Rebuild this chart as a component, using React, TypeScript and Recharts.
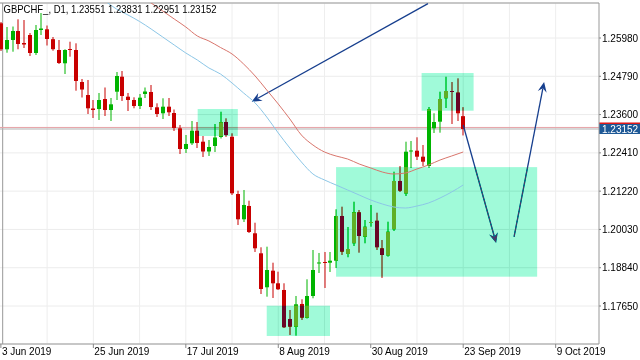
import { ComposedChart, Bar, Line, XAxis, YAxis, CartesianGrid, ReferenceLine, ReferenceArea } from 'recharts';

const symbol = 'GBPCHF_';
const period = 'D1';

// daily OHLC, 3 Jun 2019 .. 23 Sep 2019
const opens = [
  1.26437, 1.25629, 1.25918, 1.26198, 1.25825, 1.26073, 1.25514, 1.26229, 1.2625, 1.25943,
  1.25607, 1.25194, 1.25638, 1.25607, 1.24612, 1.24208, 1.23789, 1.23773, 1.24084, 1.23742,
  1.24311, 1.24777, 1.24156, 1.24053, 1.23866, 1.2424, 1.24302, 1.23826, 1.2364, 1.23845,
  1.23649, 1.23173, 1.2253, 1.22707, 1.23099, 1.22757, 1.22452, 1.22623, 1.22903, 1.23369,
  1.22912, 1.21131, 1.20345, 1.20759, 1.1991, 1.19288, 1.18232, 1.18748, 1.18356, 1.18148,
  1.17247, 1.17007, 1.17713, 1.17287, 1.17961, 1.18971, 1.19018, 1.18996, 1.19058, 1.20448,
  1.19267, 1.19599, 1.20563, 1.19804, 1.2023, 1.20302, 1.19444, 1.1922, 1.20034, 1.21536,
  1.21147, 1.22452, 1.22477, 1.22291, 1.22002, 1.23173, 1.23379, 1.24106, 1.24333, 1.24286,
  1.23551,
];
const highs = [
  1.26477, 1.26322, 1.26337, 1.26561, 1.26539, 1.26135, 1.26384, 1.26757, 1.26368, 1.26011,
  1.25918, 1.25629, 1.25865, 1.25815, 1.24706, 1.24675, 1.24053, 1.24271, 1.24442, 1.24115,
  1.24923, 1.24954, 1.24271, 1.24137, 1.2424, 1.24442, 1.24519, 1.2395, 1.24106, 1.24115,
  1.23758, 1.23276, 1.22965, 1.234, 1.23369, 1.22934, 1.2281, 1.23307, 1.23689, 1.23484,
  1.23018, 1.21234, 1.21256, 1.20923, 1.20239, 1.19475, 1.19494, 1.18996, 1.18717, 1.18356,
  1.17526, 1.17961, 1.17859, 1.1848, 1.19391, 1.19298, 1.19329, 1.19329, 1.20656, 1.20737,
  1.20106, 1.20892, 1.20634, 1.20323, 1.2079, 1.2055, 1.19702, 1.20271, 1.21825, 1.22002,
  1.22757, 1.22779, 1.22894, 1.22654, 1.23835, 1.2364, 1.24311, 1.24777, 1.24612, 1.24727,
  1.23831,
];
const lows = [
  1.25576, 1.25523, 1.25554, 1.25629, 1.25669, 1.25421, 1.25452, 1.26073, 1.25747, 1.25585,
  1.25172, 1.24861, 1.25399, 1.24342, 1.24131, 1.23618, 1.23494, 1.23431, 1.23556, 1.234,
  1.24053, 1.24022, 1.23711, 1.23795, 1.23773, 1.24115, 1.23742, 1.23525, 1.23462, 1.23556,
  1.2309, 1.22375, 1.22406, 1.22654, 1.22561, 1.22281, 1.22313, 1.22437, 1.22856, 1.22903,
  1.211, 1.20168, 1.20261, 1.19919, 1.19329, 1.18023, 1.1794, 1.17899, 1.18148, 1.16967,
  1.16749, 1.16727, 1.17216, 1.17262, 1.1789, 1.18676, 1.1821, 1.18707, 1.18832, 1.19236,
  1.19164, 1.19515, 1.19307, 1.19599, 1.20115, 1.19391, 1.18521, 1.19183, 1.19982, 1.21194,
  1.21069, 1.2194, 1.22188, 1.22002, 1.2194, 1.23027, 1.23037, 1.23804, 1.23307, 1.234,
  1.22951,
];
const closes = [
  1.25629, 1.25918, 1.26198, 1.25794, 1.25778, 1.25514, 1.26229, 1.26275, 1.25949, 1.25632,
  1.25203, 1.25607, 1.25613, 1.24644, 1.24379, 1.23795, 1.23742, 1.24053, 1.23742, 1.23919,
  1.24799, 1.24177, 1.24053, 1.23866, 1.24125, 1.24317, 1.23835, 1.23618, 1.23845, 1.23671,
  1.23183, 1.2253, 1.22686, 1.23099, 1.22717, 1.22452, 1.22592, 1.22888, 1.2336, 1.22965,
  1.21153, 1.20345, 1.2079, 1.1995, 1.19444, 1.18179, 1.18769, 1.18356, 1.1817, 1.16989,
  1.17007, 1.17703, 1.17287, 1.17961, 1.18769, 1.19003, 1.18987, 1.19058, 1.20448, 1.19338,
  1.19422, 1.20563, 1.19826, 1.20115, 1.20261, 1.19475, 1.19236, 1.1996, 1.21536, 1.21234,
  1.22446, 1.22484, 1.22291, 1.22135, 1.23764, 1.23369, 1.24084, 1.24333, 1.24302, 1.2364,
  1.23152,
];

// moving averages, read at every second bar
const maRedBars = [20, 22, 24, 26, 28, 30, 32, 34, 36, 38, 40, 42, 44, 46, 48, 50, 52, 54, 56, 58, 60, 62, 64, 66, 68, 70, 72, 74, 76, 78, 80];
const maRedVals = [
  1.27783, 1.27534, 1.27285, 1.27068, 1.26819, 1.2657, 1.26322, 1.26042, 1.25887, 1.25685,
  1.25483, 1.25172, 1.24799, 1.24364, 1.23929, 1.23463, 1.22965, 1.22654, 1.22437, 1.22312,
  1.22219, 1.22064, 1.2194, 1.21815, 1.21753, 1.21784, 1.21909, 1.22033, 1.22188, 1.22312,
  1.22437,
];
const maBlueBars = [16, 18, 20, 22, 24, 26, 28, 30, 32, 34, 36, 38, 40, 42, 44, 46, 48, 50, 52, 54, 56, 58, 60, 62, 64, 66, 68, 70, 72, 74, 76, 78, 80];
const maBlueVals = [
  1.27347, 1.2713, 1.26881, 1.26695, 1.26493, 1.2626, 1.26011, 1.25762, 1.25514, 1.25296,
  1.25048, 1.24861, 1.24581, 1.24271, 1.2396, 1.23525, 1.23027, 1.22561, 1.22126, 1.21753,
  1.21567, 1.21411, 1.21256, 1.211, 1.20945, 1.20821, 1.20727, 1.20696, 1.20758, 1.20852,
  1.21007, 1.21193, 1.21411,
];

const tickBars = [0, 16, 32, 48, 64, 80, 96];
const tickLabels = ['3 Jun 2019', '25 Jun 2019', '17 Jul 2019', '8 Aug 2019', '30 Aug 2019', '23 Sep 2019', '9 Oct 2019'];
const priceTicks = [1.1765, 1.1884, 1.2003, 1.2122, 1.2241, 1.236, 1.2479, 1.2598];
const gridBars = [8, 16, 24, 32, 40, 48, 56, 64, 72, 80, 88, 96];

const bid = 1.23152;
const ask = 1.232;
const SLOTS = 104;
const Y_MIN = 1.16469;
const Y_MAX = 1.27068;

// drawn objects (bar position, price)
const boxX1 = [34.05, 46.0, 58.0, 72.8];
const boxX2 = [41.0, 56.95, 92.8, 81.8];
const boxTop = [1.23773, 1.17659, 1.21967, 1.24892];
const boxBottom = [1.22934, 1.16718, 1.18561, 1.2372];
const arrowFrom = [[73.9, 1.2705], [80.0, 1.23276], [88.8, 1.19795]];
const arrowTo = [[43.4, 1.24], [85.7, 1.19608], [94.0, 1.24613]];

const rows = Array.from({ length: SLOTS }, (_, i) => {
  const row: any = { i };
  if (i < opens.length) {
    row.open = opens[i];
    row.high = highs[i];
    row.low = lows[i];
    row.close = closes[i];
    row.range = [lows[i], highs[i]];
  }
  const r = maRedBars.indexOf(i);
  if (r >= 0) row.maRed = maRedVals[r];
  const b = maBlueBars.indexOf(i);
  if (b >= 0) row.maBlue = maBlueVals[b];
  return row;
});

const FONT = '"Liberation Sans", Arial, sans-serif';
const last = opens.length - 1;
const title = `${symbol}, ${period}, ${opens[last].toFixed(5)} ${highs[last].toFixed(5)} ${lows[last].toFixed(5)} ${closes[last].toFixed(5)}`;

function Candle(props: any) {
  const { x, y, width, height, payload } = props;
  if (!payload || payload.open == null) return null;
  const { open, close, high, low } = payload;
  const top = Math.min(y, y + height);
  const h = Math.abs(height);
  const k = h / (high - low);
  const py = (v: number) => top + (high - v) * k;
  const up = close >= open;
  const body = up ? '#00b400' : '#c80000';
  const bx = Math.round(x + width / 2 - 2);
  const bTop = py(Math.max(open, close));
  const bH = Math.max(1, py(Math.min(open, close)) - bTop);
  return (
    <g>
      <line x1={bx + 2} x2={bx + 2} y1={top} y2={top + h} stroke={body} strokeWidth={1} />
      <rect x={bx} y={bTop} width={4} height={bH} fill={body} />
    </g>
  );
}

function DateTick(props: any) {
  const { x, y, payload } = props;
  const k = tickBars.indexOf(payload.value);
  return (
    <text x={x + 1} y={y} dy="0.71em" fontSize={10} fontFamily={FONT} fill="#000" textAnchor="start">
      {tickLabels[k]}
    </text>
  );
}

function Arrow(p: any) {
  const { x1, y1, x2, y2 } = p;
  const a = Math.atan2(y2 - y1, x2 - x1);
  const ux = Math.cos(a);
  const uy = Math.sin(a);
  const L = 10, W = 4.5, N = 6.5;
  const pts = [
    [x2, y2],
    [x2 - L * ux - W * uy, y2 - L * uy + W * ux],
    [x2 - N * ux, y2 - N * uy],
    [x2 - L * ux + W * uy, y2 - L * uy - W * ux],
  ];
  return (
    <g>
      <line x1={x1} y1={y1} x2={x2 - N * ux} y2={y2 - N * uy} stroke="#173f8e" strokeWidth={1.3} />
      <polygon points={pts.map((q) => q.join(',')).join(' ')} fill="#173f8e" />
    </g>
  );
}

function BlendBox(p: any) {
  return <rect x={p.x} y={p.y} width={p.width} height={p.height} fill="rgb(95,5,38)" style={{ mixBlendMode: 'difference' }} />;
}

function PriceTag(props: any) {
  const vb = props.viewBox || {};
  const x = vb.x + vb.width;
  const y = vb.y;
  return (
    <g>
      <rect x={x} y={y - 6.5} width={44} height={1.5} fill="#e01818" />
      <rect x={x} y={y - 5} width={44} height={10} fill="#1d5896" />
      <text x={x + 3} y={y + 3.6} fontSize={10} fontFamily={FONT} fill="#fff">
        {bid.toFixed(5)}
      </text>
    </g>
  );
}

export default function App() {
  return (
    <div style={{ position: 'fixed', left: -2, top: 0, width: 643, height: 360, background: '#fff' }}>
      <ComposedChart width={643} height={360} data={rows} margin={{ top: 3, right: 0, bottom: 0, left: 0 }}>
        <XAxis
          xAxisId="c"
          dataKey="i"
          type="category"
          ticks={tickBars}
          interval={0}
          tick={DateTick}
          height={16}
          tickSize={4}
          tickMargin={0}
          axisLine={{ stroke: '#999' }}
          tickLine={{ stroke: '#888' }}
        />
        <XAxis xAxisId="n" dataKey="i" type="number" domain={[-0.5, SLOTS - 0.5]} allowDataOverflow hide height={0} />
        <YAxis
          orientation="right"
          type="number"
          domain={[Y_MIN, Y_MAX]}
          allowDataOverflow
          ticks={priceTicks}
          tickFormatter={(v: number) => v.toFixed(5)}
          width={42}
          tickSize={2}
          tickMargin={1}
          tick={{ fontSize: 10, fill: '#000', fontFamily: FONT }}
          axisLine={{ stroke: '#999' }}
          tickLine={{ stroke: '#888' }}
        />
        <ReferenceArea xAxisId="n" x1={-0.5} x2={SLOTS - 0.5} y1={Y_MIN} y2={Y_MAX} fill="#fff" fillOpacity={1} ifOverflow="visible" zIndex={-200} />
        <CartesianGrid xAxisId="c" vertical={false} stroke="#ececec" />
        {gridBars.map((g) => (
          <ReferenceLine key={'g' + g} xAxisId="n" x={g} stroke="#eeeeee" zIndex={-90} />
        ))}
        <ReferenceLine xAxisId="n" x={0.31} stroke="#999" zIndex={-80} />
        <ReferenceLine xAxisId="n" y={Y_MAX} stroke="#999" zIndex={-80} />
        <ReferenceLine xAxisId="n" y={ask} stroke="#e6a2a6" zIndex={290} />
        <ReferenceLine xAxisId="n" y={bid} stroke="#b2b2b2" zIndex={290} label={PriceTag} />
        <Bar xAxisId="c" dataKey="range" barSize={4} shape={Candle} isAnimationActive={false} />
        {arrowFrom.map((f, k) => (
          <ReferenceLine
            key={'a' + k}
            xAxisId="n"
            segment={[{ x: f[0], y: f[1] }, { x: arrowTo[k][0], y: arrowTo[k][1] }]}
            ifOverflow="visible"
            shape={Arrow}
            zIndex={450}
          />
        ))}
        {boxX1.map((x1, k) => (
          <ReferenceArea
            key={'b' + k}
            xAxisId="n"
            x1={x1}
            x2={boxX2[k]}
            y1={boxBottom[k]}
            y2={boxTop[k]}
            ifOverflow="visible"
            shape={BlendBox}
            zIndex={460}
          />
        ))}
        <Line xAxisId="c" dataKey="maRed" type="monotone" stroke="#d8756c" strokeWidth={1} dot={false} connectNulls isAnimationActive={false} zIndex={470} />
        <Line xAxisId="c" dataKey="maBlue" type="monotone" stroke="#8cc6e6" strokeWidth={1} dot={false} connectNulls isAnimationActive={false} zIndex={470} />
      </ComposedChart>
      <svg width={300} height={20} style={{ position: 'absolute', left: 2, top: 0 }}>
        <text x={3.5} y={12.7} fontSize={10.5} fontFamily={FONT} fill="#000" textLength={213} lengthAdjust="spacingAndGlyphs">
          {title}
        </text>
      </svg>
    </div>
  );
}
